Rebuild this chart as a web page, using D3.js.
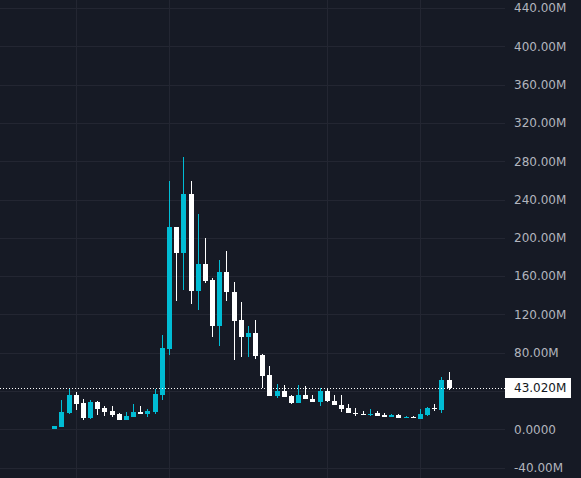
<!DOCTYPE html>
<html>
<head>
<meta charset="utf-8">
<script src="https://cdn.jsdelivr.net/npm/d3@7"></script>
<style>
  html, body { margin: 0; padding: 0; background: #161a25; overflow: hidden; }
  .axis text { fill: #b2b5be; font-family: "DejaVu Sans", sans-serif; font-size: 12px; }
  .axis path, .axis line { display: none; }
</style>
</head>
<body>
<div id="container"></div>
<script>
// weekly candles, values in millions
var weeks = d3.range(1, 57);
var open  = [0.4, 2.4, 16.7, 35.8, 27.5, 11.8, 28.5, 22, 19, 16, 9.7, 13, 18, 16, 18, 36, 84, 211, 184, 246,
             144, 173, 156, 108, 164, 143, 114, 96, 101, 78, 57, 35, 40, 35, 27.5, 36, 32, 28.5, 40, 30,
             25, 22, 17, 16.5, 15.5, 17, 14.5, 13, 15, 12, 13, 11, 15, 22, 20, 51];
var high  = [3.6, 30.6, 42, 39, 31.6, 30.6, 29.6, 24, 24, 17, 18, 26, 24, 21, 42, 98, 259, 211, 284, 259,
             225, 200, 158, 177, 186, 154, 133, 108, 114, 79, 66, 47, 46, 36, 46, 45, 36, 43, 42, 36,
             36, 26, 22, 19, 21, 19, 17, 16, 16, 14, 14, 21, 23, 26, 55, 60];
var low   = [0.3, 2, 15.7, 20.2, 9.7, 10.7, 15, 14, 12.8, 9.7, 9.7, 12.5, 16, 13, 16, 31, 78, 134, 146, 131,
             125, 153, 96, 87, 134, 72, 76, 76, 73, 43, 35, 33, 34, 26, 27, 32, 28, 24, 29, 25,
             18, 17, 14, 15, 14, 14, 13, 13, 12, 12, 12, 11, 14, 19, 17, 41];
var close = [3.4, 18, 35.8, 26.4, 11.8, 28.5, 21.2, 18, 15, 9.7, 14, 18, 16, 19, 37, 85, 211, 184, 246, 144,
             173, 155, 108, 164, 143, 113, 96, 101, 77, 56, 35, 40, 34, 27.5, 36, 32, 28.5, 40, 29.5, 25,
             21, 17, 16, 15, 16.5, 14, 13, 15, 12, 13, 12, 16, 22, 21, 51, 43.02];
var gridValues = [-40, 0, 40, 80, 120, 160, 200, 240, 280, 320, 360, 400, 440];
// 40.00M sits under the last price label, so it is not written
var tickLabels = [-40, 0, 80, 120, 160, 200, 240, 280, 320, 360, 400, 440];
var gridWeeks = [4, 17, 39, 52];
var lastPrice = 43.02;

var data = weeks.map(function(w, i) {
  return {week: w, open: open[i], high: high[i], low: low[i], close: close[i]};
});

var width = 581, height = 478, plotRight = 505;
var upColor = '#00bcd4', downColor = '#ffffff';

var svg = d3.select('#container').append('svg')
  .attr('width', width)
  .attr('height', height)
  .style('display', 'block');

svg.append('rect').attr('width', width).attr('height', height).attr('fill', '#161a25');

var x = d3.scaleLinear().domain([1, 56]).range([54.3, 448.6]);
var y = d3.scaleLinear().domain([0, 440]).range([429.3, 8]);

// grid
svg.append('g').selectAll('line')
  .data(gridValues)
  .enter().append('line')
  .attr('x1', 0).attr('x2', plotRight)
  .attr('y1', function(d) { return Math.round(y(d)) + 0.5; })
  .attr('y2', function(d) { return Math.round(y(d)) + 0.5; })
  .attr('stroke', '#232632');

svg.append('g').selectAll('line')
  .data(gridWeeks)
  .enter().append('line')
  .attr('x1', function(d) { return Math.round(x(d)) + 0.5; })
  .attr('x2', function(d) { return Math.round(x(d)) + 0.5; })
  .attr('y1', 0).attr('y2', height)
  .attr('stroke', '#232632');

// candles
var candle = svg.append('g').selectAll('g')
  .data(data)
  .enter().append('g');

candle.append('line')
  .attr('x1', function(d) { return Math.round(x(d.week)) + 0.5; })
  .attr('x2', function(d) { return Math.round(x(d.week)) + 0.5; })
  .attr('y1', function(d) { return Math.round(y(d.high)); })
  .attr('y2', function(d) { return Math.round(y(d.low)); })
  .attr('stroke', function(d) { return d.close >= d.open ? upColor : downColor; });

candle.append('rect')
  .attr('x', function(d) { return Math.round(x(d.week)) - 2; })
  .attr('y', function(d) { return Math.round(y(Math.max(d.open, d.close))); })
  .attr('width', 5)
  .attr('height', function(d) {
    return Math.max(1, Math.round(y(Math.min(d.open, d.close))) - Math.round(y(Math.max(d.open, d.close))));
  })
  .attr('fill', function(d) { return d.close >= d.open ? upColor : downColor; });

// last price line
svg.append('line')
  .attr('x1', 0).attr('x2', plotRight)
  .attr('y1', Math.round(y(lastPrice)) + 0.5)
  .attr('y2', Math.round(y(lastPrice)) + 0.5)
  .attr('stroke', '#ffffff')
  .attr('stroke-dasharray', '1,2');

// price axis
var yAxis = d3.axisRight(y)
  .tickValues(tickLabels)
  .tickSize(0)
  .tickPadding(9)
  .tickFormat(function(d) { return d === 0 ? '0.0000' : d + '.00M'; });

svg.append('g')
  .attr('class', 'axis')
  .attr('transform', 'translate(' + plotRight + ',0)')
  .call(yAxis);

// last price label
var ly = Math.round(y(lastPrice));
svg.append('rect')
  .attr('x', plotRight).attr('y', ly - 10)
  .attr('width', 66).attr('height', 20)
  .attr('fill', '#ffffff');

svg.append('text')
  .attr('x', plotRight + 9)
  .attr('y', ly)
  .attr('dy', '0.35em')
  .style('font-family', '"DejaVu Sans", sans-serif')
  .style('font-size', '12px')
  .attr('fill', '#131722')
  .text(d3.format('.3f')(lastPrice) + 'M');
</script>
</body>
</html>
